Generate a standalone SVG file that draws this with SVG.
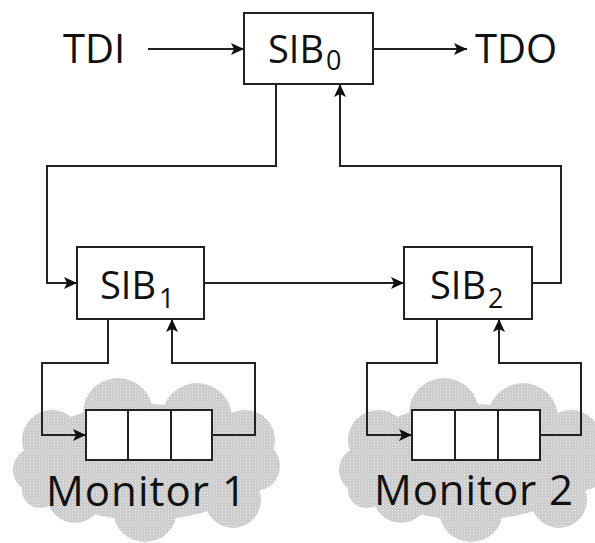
<svg xmlns="http://www.w3.org/2000/svg" xmlns:xlink="http://www.w3.org/1999/xlink" width="595" height="543" viewBox="0 0 595 543">
  <style>
    .lbl { font-family: "Open Sans", "Liberation Sans", sans-serif; fill: #111; }
    .big { font-size: 40px; }
    .mon { font-size: 42px; }
    .sib { font-size: 38px; }
    .sub { font-size: 27px; }
    .box { fill: #fff; stroke: #222; stroke-width: 2; }
    .wire { fill: none; stroke: #222; stroke-width: 2; }
  </style>
  <defs>
    <marker id="arrow" markerUnits="userSpaceOnUse" markerWidth="14" markerHeight="12" refX="13" refY="6" orient="auto">
      <path d="M0,0 L13,6 L0,12 L3,6 z" fill="#111"/>
    </marker>
    <pattern id="grain" width="3" height="3" patternUnits="userSpaceOnUse">
      <rect width="3" height="3" fill="#c8c8c8"/>
      <rect width="1" height="1" fill="#f4f4f4"/>
      <rect x="1.5" y="1.5" width="1" height="1" fill="#e8e8e8"/>
    </pattern>
    <!-- cloud silhouette built from overlapping bumps -->
    <g id="cloud" fill="url(#grain)">
      <ellipse cx="145" cy="462" rx="118" ry="58"/>
      <circle cx="52" cy="440" r="30"/>
      <circle cx="36" cy="470" r="23"/>
      <circle cx="118" cy="413" r="35"/>
      <circle cx="197" cy="418" r="35"/>
      <circle cx="245" cy="440" r="30"/>
      <circle cx="255" cy="466" r="25"/>
      <circle cx="233" cy="500" r="28"/>
      <circle cx="145" cy="510" r="32"/>
      <circle cx="75" cy="495" r="28"/>
      <circle cx="40" cy="490" r="18"/>
    </g>
  </defs>

  <rect width="595" height="543" fill="#fff"/>

  <!-- monitor clouds -->
  <g id="cloud1"><use xlink:href="#cloud"/></g>
  <g id="cloud2"><use xlink:href="#cloud" transform="translate(326,0)"/></g>

  <!-- connectors -->
  <g id="connectors">
    <path class="wire" d="M148,49 H244" marker-end="url(#arrow)"/>
    <path class="wire" d="M373,49 H467" marker-end="url(#arrow)"/>
    <path class="wire" d="M276,84 V166 H47 V283 H77" marker-end="url(#arrow)"/>
    <path class="wire" d="M532,283 H561 V166 H340 V84" marker-end="url(#arrow)"/>
    <path class="wire" d="M204,283 H404" marker-end="url(#arrow)"/>
    <path class="wire" d="M108,319 V363 H42 V435 H86" marker-end="url(#arrow)"/>
    <path class="wire" d="M212,435 H255 V363 H172 V319" marker-end="url(#arrow)"/>
    <path class="wire" d="M437,319 V363 H367 V435 H412" marker-end="url(#arrow)"/>
    <path class="wire" d="M540,435 H581 V363 H499 V319" marker-end="url(#arrow)"/>
  </g>

  <!-- terminals -->
  <g id="tdi"><text class="lbl big" x="63" y="63">TDI</text></g>
  <g id="tdo"><text class="lbl big" x="475" y="63">TDO</text></g>

  <!-- SIB nodes -->
  <g id="sib0">
    <rect class="box" x="244" y="13" width="129" height="71"/>
    <text class="lbl sib" x="268" y="63">SIB<tspan class="sub" dx="2" dy="7">0</tspan></text>
  </g>
  <g id="sib1">
    <rect class="box" x="77" y="247" width="127" height="72"/>
    <text class="lbl sib" x="100" y="299">SIB<tspan class="sub" dx="3" dy="9">1</tspan></text>
  </g>
  <g id="sib2">
    <rect class="box" x="404" y="247" width="128" height="72"/>
    <text class="lbl sib" x="430" y="299">SIB<tspan class="sub" dx="2" dy="9">2</tspan></text>
  </g>

  <!-- monitor registers -->
  <g id="monitor1">
    <rect class="box" x="86" y="410" width="126" height="50"/>
    <line class="wire" x1="128" y1="410" x2="128" y2="460"/>
    <line class="wire" x1="171" y1="410" x2="171" y2="460"/>
    <text class="lbl mon" x="46" y="506" textLength="200">Monitor 1</text>
  </g>
  <g id="monitor2">
    <rect class="box" x="412" y="410" width="128" height="50"/>
    <line class="wire" x1="455" y1="410" x2="455" y2="460"/>
    <line class="wire" x1="498" y1="410" x2="498" y2="460"/>
    <text class="lbl mon" x="374" y="505" textLength="199">Monitor 2</text>
  </g>
</svg>
